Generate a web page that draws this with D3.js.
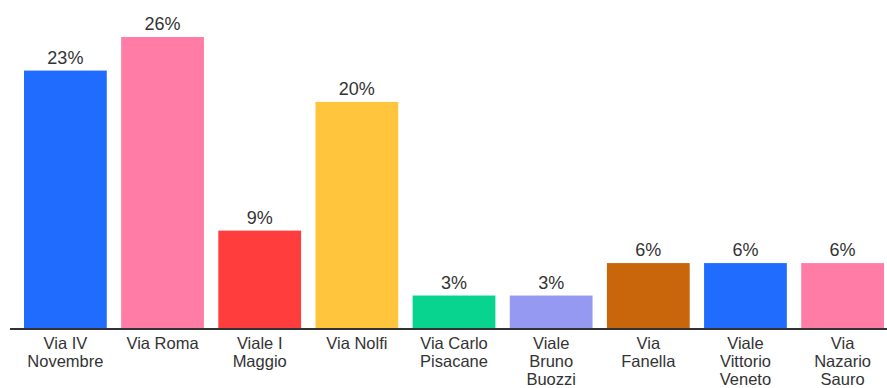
<!DOCTYPE html>
<html><head><meta charset="utf-8">
<script src="https://cdn.jsdelivr.net/npm/d3@7"></script>
<style>body{margin:0;background:#fff}svg{display:block}text{font-family:"Liberation Sans",Arial,sans-serif;fill:#333}</style>
</head><body>
<svg id="c" width="887" height="388"></svg>
<script>
const categories = [["Via IV","Novembre"],["Via Roma"],["Viale I","Maggio"],["Via Nolfi"],["Via Carlo","Pisacane"],["Viale","Bruno","Buozzi"],["Via","Fanella"],["Viale","Vittorio","Veneto"],["Via","Nazario","Sauro"]];
const values = [23,26,8.7,20.2,2.9,2.9,5.8,5.8,5.8];
const valueLabels = ["23%","26%","9%","20%","3%","3%","6%","6%","6%"];
const colors = ["#1f6cff","#ff7ca7","#ff3d3d","#ffc53c","#08d38f","#9599f2","#c9650b","#1f6cff","#ff7ca7"];

const svg = d3.select("#c");
const base = 328;
const x = d3.scaleBand().domain(d3.range(values.length)).range([24,884]).paddingInner(0.148).paddingOuter(0);
const y = d3.scaleLinear().domain([0,26]).range([base,37]);

svg.selectAll("rect.bar").data(values).enter().append("rect")
  .attr("x",(d,i)=>x(i)).attr("width",x.bandwidth())
  .attr("y",d=>y(d)).attr("height",d=>base-y(d))
  .attr("fill",(d,i)=>colors[i]);

svg.selectAll("text.val").data(values).enter().append("text")
  .attr("x",(d,i)=>x(i)+x.bandwidth()/2).attr("y",d=>y(d)-7)
  .attr("text-anchor","middle").attr("font-size",18).text((d,i)=>valueLabels[i]);

svg.append("line").attr("x1",10).attr("x2",887).attr("y1",base+1).attr("y2",base+1)
  .attr("stroke","#333").attr("stroke-width",2);

const g = svg.selectAll("text.cat").data(categories).enter().append("text")
  .attr("text-anchor","middle").attr("font-size",16.5);
g.selectAll("tspan").data((d,i)=>d.map(t=>({t,i}))).enter().append("tspan")
  .attr("x",d=>x(d.i)+x.bandwidth()/2).attr("y",(d,j)=>349+j*18).text(d=>d.t);
</script>
</body></html>
